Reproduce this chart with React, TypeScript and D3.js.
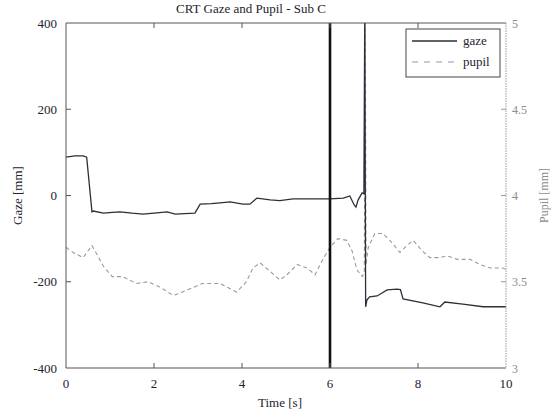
import React from "react";
import * as d3 from "d3";

const gazeT = [0, 0.2, 0.39, 0.47, 0.59, 0.62, 0.85, 1.05, 1.23, 1.5, 1.75, 2.0, 2.3, 2.48, 2.7, 2.93, 3.05, 3.3, 3.5, 3.73, 4.02, 4.18, 4.34, 4.64, 4.86, 5.16, 5.55, 6.0, 6.3, 6.45, 6.55, 6.59, 6.64, 6.73, 6.77, 6.79, 6.81, 6.84, 6.9, 7.07, 7.3, 7.52, 7.6, 7.66, 8.11, 8.5, 8.61, 9.02, 9.48, 10];
const gazeV = [89, 92, 92, 89, -38, -36, -41, -39, -38, -41, -43, -41, -38, -43, -42, -41, -20, -19, -17, -15, -20, -20, -6, -10, -12, -8, -8, -8, -6, -1, -22, -27, -10, 6, 4, 420, -258, -242, -235, -233, -219, -217, -218, -240, -249, -258, -247, -252, -258, -258];

const pupilT = [0, 0.16, 0.39, 0.59, 0.7, 0.85, 1.05, 1.28, 1.6, 1.87, 2.13, 2.44, 2.74, 3.1, 3.5, 3.88, 4.1, 4.25, 4.41, 4.64, 4.86, 5.02, 5.25, 5.48, 5.66, 5.84, 6.0, 6.18, 6.38, 6.5, 6.61, 6.73, 6.78, 6.8, 6.82, 6.87, 7.02, 7.2, 7.36, 7.59, 7.75, 7.89, 8.09, 8.27, 8.5, 8.66, 8.89, 9.18, 9.41, 9.64, 9.93, 10];
const pupilV = [3.70, 3.67, 3.64, 3.71, 3.66, 3.59, 3.53, 3.53, 3.49, 3.50, 3.47, 3.42, 3.45, 3.49, 3.49, 3.44, 3.50, 3.58, 3.61, 3.56, 3.51, 3.54, 3.60, 3.58, 3.54, 3.63, 3.70, 3.75, 3.74, 3.68, 3.57, 3.53, 3.55, 5.2, 3.6, 3.70, 3.78, 3.78, 3.74, 3.67, 3.71, 3.74, 3.68, 3.64, 3.64, 3.65, 3.63, 3.63, 3.60, 3.58, 3.58, 3.57];

const xTicks = [0, 2, 4, 6, 8, 10];
const gazeTicks = [-400, -200, 0, 200, 400];
const pupilTicks = [3, 3.5, 4, 4.5, 5];
const markerTime = 6;

const W = 551, H = 415;
const L = 66, R = 506, T = 23, B = 368;
const FONT = "'Liberation Serif', 'DejaVu Serif', serif";

export default function App() {
  const x = d3.scaleLinear().domain([0, 10]).range([L, R]);
  const yG = d3.scaleLinear().domain([-400, 400]).range([B, T]);
  const yP = d3.scaleLinear().domain([3, 5]).range([B, T]);

  const gazeData = gazeT.map((t, i) => [t, gazeV[i]] as [number, number]);
  const pupilData = pupilT.map((t, i) => [t, pupilV[i]] as [number, number]);
  const gazeLine = d3.line<[number, number]>().x(d => x(d[0])).y(d => yG(d[1]));
  const pupilLine = d3.line<[number, number]>().x(d => x(d[0])).y(d => yP(d[1]));

  const tickLen = 5;
  const textCol = "#23232e";
  const grayCol = "#8a8a8a";

  return (
    <svg width={W} height={H} style={{ position: "absolute", left: 0, top: 0, background: "#fff" }}>
      <defs>
        <clipPath id="plotclip">
          <rect x={L} y={T} width={R - L} height={B - T} />
        </clipPath>
      </defs>
      <rect x={0} y={0} width={W} height={H} fill="#fff" />

      {/* title */}
      <text x={251} y={13} textAnchor="middle" fontFamily={FONT} fontSize={13} fill={textCol}>CRT Gaze and Pupil - Sub C</text>

      {/* data */}
      <g clipPath="url(#plotclip)">
        <path d={pupilLine(pupilData) || ""} fill="none" stroke="#9a9a9a" strokeWidth={1.1} strokeDasharray="4,3" />
        <path d={gazeLine(gazeData) || ""} fill="none" stroke="#2e2e3a" strokeWidth={1.3} />
        <line x1={x(markerTime)} x2={x(markerTime)} y1={T} y2={B} stroke="#111" strokeWidth={2.6} />
      </g>

      {/* frame */}
      <line x1={L} x2={R} y1={T} y2={T} stroke="#555" strokeWidth={1} />
      <line x1={L} x2={R} y1={B} y2={B} stroke="#555" strokeWidth={1} />
      <line x1={L} x2={L} y1={T} y2={B} stroke="#555" strokeWidth={1} />
      <line x1={R} x2={R} y1={T} y2={B} stroke="#999" strokeWidth={1} strokeDasharray="1.5,1" />

      {/* x ticks */}
      {xTicks.map(t => (
        <g key={"xt" + t}>
          {t > 0 && t < 10 && (
            <>
              <line x1={x(t)} x2={x(t)} y1={B} y2={B - tickLen} stroke="#555" />
              <line x1={x(t)} x2={x(t)} y1={T} y2={T + tickLen} stroke="#555" />
            </>
          )}
          <text x={x(t)} y={388} textAnchor="middle" fontFamily={FONT} fontSize={13} fill={textCol}>{t}</text>
        </g>
      ))}

      {/* gaze ticks */}
      {gazeTicks.map(v => (
        <g key={"gt" + v}>
          {v > -400 && v < 400 && <line x1={L} x2={L + tickLen} y1={yG(v)} y2={yG(v)} stroke="#555" />}
          <text x={57} y={yG(v) + 4.5} textAnchor="end" fontFamily={FONT} fontSize={13} fill={textCol}>{v}</text>
        </g>
      ))}

      {/* pupil ticks */}
      {pupilTicks.map(v => (
        <g key={"pt" + v}>
          {v > 3 && v < 5 && <line x1={R} x2={R - tickLen} y1={yP(v)} y2={yP(v)} stroke="#999" />}
          <text x={512} y={yP(v) + 4.5} textAnchor="start" fontFamily={FONT} fontSize={12} fill={grayCol}>{v}</text>
        </g>
      ))}

      {/* axis labels */}
      <text x={280} y={407} textAnchor="middle" fontFamily={FONT} fontSize={13} fill={textCol}>Time [s]</text>
      <text transform={`translate(22,${(T + B) / 2}) rotate(-90)`} textAnchor="middle" fontFamily={FONT} fontSize={13} fill={textCol}>Gaze [mm]</text>
      <text transform={`translate(548,${(T + B) / 2}) rotate(-90)`} textAnchor="middle" fontFamily={FONT} fontSize={12} fill={grayCol}>Pupil [mm]</text>

      {/* legend */}
      <rect x={406} y={29} width={94} height={48} fill="#fff" stroke="#444" strokeWidth={1} />
      <line x1={412} x2={457} y1={41} y2={41} stroke="#2e2e3a" strokeWidth={1.3} />
      <text x={463} y={45} fontFamily={FONT} fontSize={13} fill={textCol}>gaze</text>
      <line x1={412} x2={457} y1={62} y2={62} stroke="#9a9a9a" strokeWidth={1.1} strokeDasharray="6,6" />
      <text x={463} y={66} fontFamily={FONT} fontSize={13} fill={textCol}>pupil</text>
    </svg>
  );
}
